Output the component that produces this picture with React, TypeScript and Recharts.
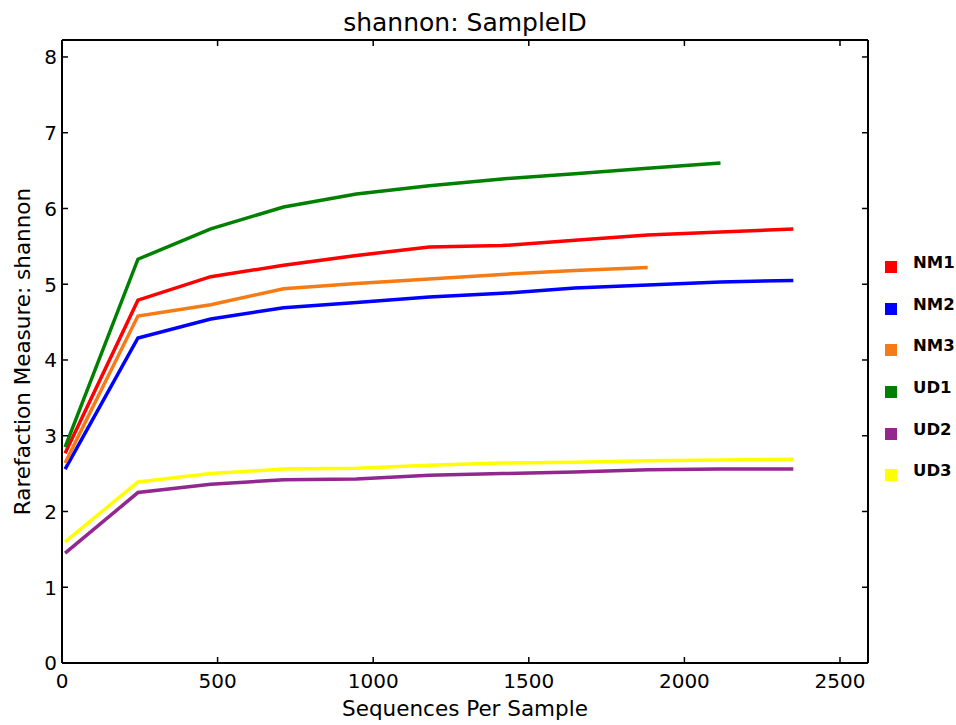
import React from 'react';
import { LineChart, Line, XAxis, YAxis, Legend } from 'recharts';

// rarefaction depths (x) and shannon values per sample
const depths = [10, 244, 478, 712, 946, 1180, 1414, 1648, 1882, 2116, 2350];
const nm1 = [2.77, 4.79, 5.10, 5.25, 5.38, 5.49, 5.51, 5.58, 5.65, 5.69, 5.73];
const nm2 = [2.56, 4.29, 4.54, 4.69, 4.76, 4.83, 4.88, 4.95, 4.99, 5.03, 5.05];
const nm3 = [2.64, 4.58, 4.73, 4.94, 5.01, 5.07, 5.13, 5.18, 5.22];
const ud1 = [2.85, 5.33, 5.73, 6.02, 6.19, 6.30, 6.39, 6.46, 6.53, 6.60];
const ud2 = [1.45, 2.25, 2.36, 2.42, 2.43, 2.48, 2.50, 2.52, 2.55, 2.56, 2.56];
const ud3 = [1.60, 2.39, 2.50, 2.56, 2.57, 2.61, 2.64, 2.65, 2.67, 2.68, 2.69];

const xTicks = [0, 500, 1000, 1500, 2000, 2500];
const yTicks = [0, 1, 2, 3, 4, 5, 6, 7, 8];

const series = [
    { key: 'NM1', values: nm1, color: '#ff0000' },
    { key: 'NM2', values: nm2, color: '#0000ff' },
    { key: 'NM3', values: nm3, color: '#f57b16' },
    { key: 'UD1', values: ud1, color: '#008000' },
    { key: 'UD2', values: ud2, color: '#91278f' },
    { key: 'UD3', values: ud3, color: '#ffff00' },
];

const data = depths.map((d, i) => {
    const row: any = { depth: d };
    series.forEach(s => { row[s.key] = s.values[i]; });
    return row;
});

const TICK_LEN = 6;

const BottomTick = (props: any) => {
    const { x, y, payload } = props;
    return (
        <g>
            <line x1={x} y1={y} x2={x} y2={y - TICK_LEN} stroke="#000" strokeWidth={1.5} />
            <text x={x} y={y + 25} textAnchor="middle" fontSize={20} fill="#000">{payload.value}</text>
        </g>
    );
};

const TopTick = (props: any) => {
    const { x, y } = props;
    return <line x1={x} y1={y} x2={x} y2={y + TICK_LEN} stroke="#000" strokeWidth={1.5} />;
};

const LeftTick = (props: any) => {
    const { x, y, payload } = props;
    return (
        <g>
            <line x1={x} y1={y} x2={x + TICK_LEN} y2={y} stroke="#000" strokeWidth={1.5} />
            <text x={x - 5} y={y + 7.3} textAnchor="end" fontSize={20} fill="#000">{payload.value}</text>
        </g>
    );
};

const RightTick = (props: any) => {
    const { x, y } = props;
    return <line x1={x} y1={y} x2={x - TICK_LEN} y2={y} stroke="#000" strokeWidth={1.5} />;
};

const YTitle = (props: any) => {
    const vb = props.viewBox || {};
    const cx = 22;
    const cy = vb.height ? vb.y + vb.height / 2 : 351;
    return (
        <text x={cx} y={cy} transform={`rotate(-90 ${cx} ${cy})`} textAnchor="middle"
            dominantBaseline="central" fontSize={21.5} fill="#000">
            Rarefaction Measure: shannon
        </text>
    );
};

const LegendBox = (props: any) => {
    const items = props.payload || [];
    return (
        <div>
            {items.map((it: any) => (
                <div key={it.value} style={{ height: 41.7, display: 'flex', alignItems: 'center' }}>
                    <span style={{ width: 12, height: 12, background: it.color, marginLeft: 5, marginTop: 8 }} />
                    <span style={{ marginLeft: 16, fontWeight: 'bold', fontSize: 16.5, color: '#000', lineHeight: '16px' }}>
                        {it.value}
                    </span>
                </div>
            ))}
        </div>
    );
};

const App: React.FC = () => {
    return (
        <div style={{ position: 'absolute', left: 0, top: 0, fontFamily: 'DejaVu Sans', background: '#fff' }}>
            <LineChart width={956} height={725} data={data} margin={{ top: 39, right: 87, bottom: 0, left: 0 }}>
                <XAxis dataKey="depth" type="number" domain={[0, 2590]} allowDataOverflow ticks={xTicks}
                    height={62} tickSize={0} tickMargin={0} tickLine={false} tick={<BottomTick />}
                    axisLine={{ stroke: '#000', strokeWidth: 2 }}
                    label={{ value: 'Sequences Per Sample', position: 'insideBottom', offset: 9, fontSize: 21.5, fill: '#000' }} />
                <XAxis xAxisId="top" orientation="top" dataKey="depth" type="number" domain={[0, 2590]} allowDataOverflow
                    ticks={xTicks} height={1} tickSize={0} tickMargin={0} tickLine={false} tick={<TopTick />}
                    axisLine={{ stroke: '#000', strokeWidth: 2 }}
                    label={{ value: 'shannon: SampleID', position: 'top', offset: 8, fontSize: 25, fill: '#000' }} />
                <YAxis type="number" domain={[0, 8.224]} allowDataOverflow ticks={yTicks} width={62}
                    tickSize={0} tickMargin={0} tickLine={false} tick={<LeftTick />}
                    axisLine={{ stroke: '#000', strokeWidth: 2 }}
                    label={{ value: 'Rarefaction Measure: shannon', content: YTitle }} />
                <YAxis yAxisId="right" orientation="right" type="number" domain={[0, 8.224]} allowDataOverflow
                    ticks={yTicks} width={1} tickSize={0} tickMargin={0} tickLine={false} tick={<RightTick />}
                    axisLine={{ stroke: '#000', strokeWidth: 2 }} />
                {series.map(s => (
                    <Line key={s.key} dataKey={s.key} name={s.key} stroke={s.color} strokeWidth={3.5}
                        dot={false} activeDot={false} isAnimationActive={false} />
                ))}
                <Legend layout="vertical" align="center" verticalAlign="middle" content={<LegendBox />}
                    wrapperStyle={{ left: 880, top: 242, width: 76 }} />
            </LineChart>
        </div>
    );
};

export default App;
